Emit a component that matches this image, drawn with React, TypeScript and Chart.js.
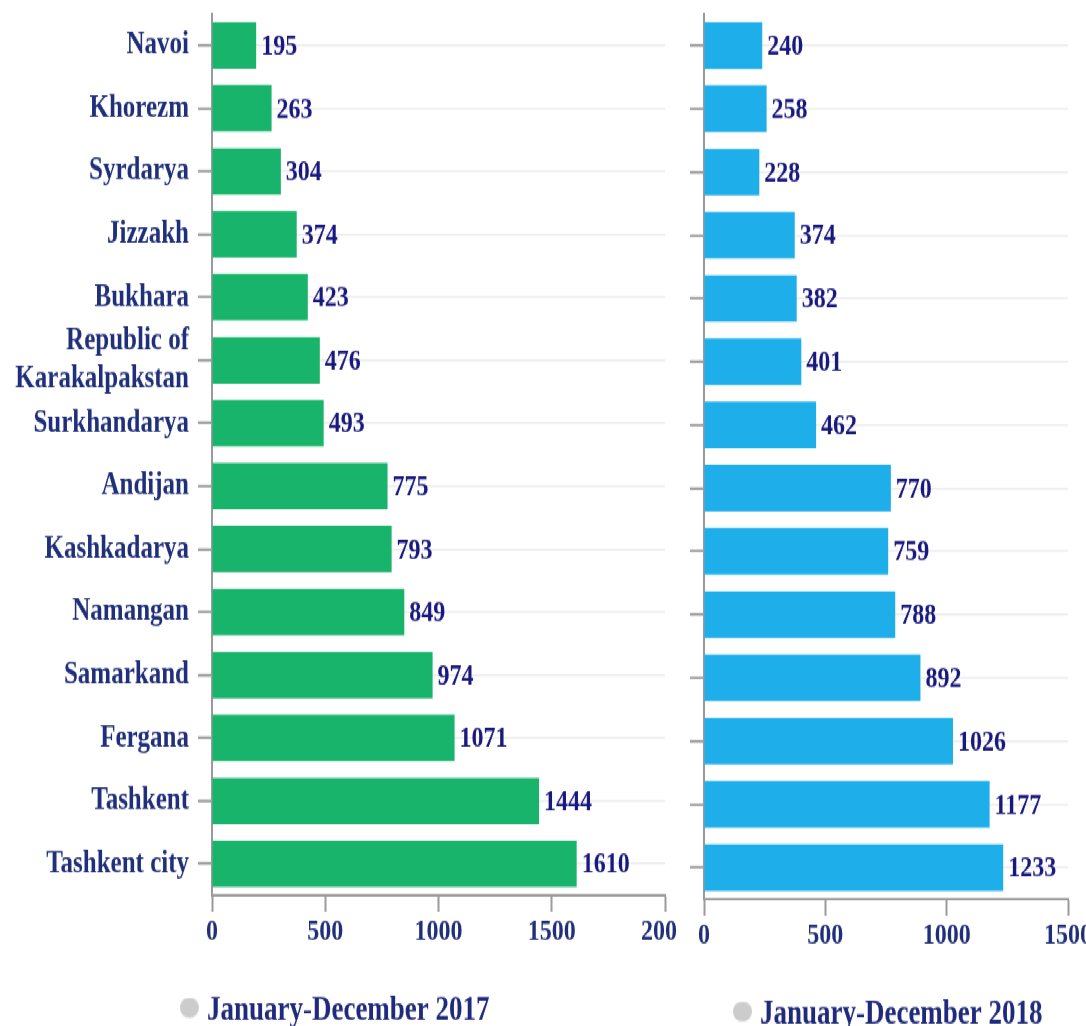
import React, { useEffect, useRef } from "react";
import { Chart, registerables } from "chart.js";

Chart.register(...registerables);

// ---- data ----
const categories: (string | string[])[] = [
  "Navoi",
  "Khorezm",
  "Syrdarya",
  "Jizzakh",
  "Bukhara",
  ["Republic of", "Karakalpakstan"],
  "Surkhandarya",
  "Andijan",
  "Kashkadarya",
  "Namangan",
  "Samarkand",
  "Fergana",
  "Tashkent",
  "Tashkent city",
];
const values2017 = [195, 263, 304, 374, 423, 476, 493, 775, 793, 849, 974, 1071, 1444, 1610];
const values2018 = [240, 258, 228, 374, 382, 401, 462, 770, 759, 788, 892, 1026, 1177, 1233];
const series2017 = "January-December 2017";
const series2018 = "January-December 2018";
const axisMax2017 = 2000;
const axisMax2018 = 1500;
const tickStep = 500;

// ---- style ----
const STRETCH = 1.27;
const FONT = "'Liberation Serif', 'Times New Roman', Times, serif";
const LABEL_COLOR = "#1f2f7a";
const VALUE_COLOR = "#18187f";
const LEGEND_COLOR = "#1f2a7c";
const AXIS_COLOR = "#9a9a9a";
const GRID_COLOR = "#ececec";
const GREEN = "#18b46c";
const BLUE = "#1eaeea";

let legendDot: HTMLCanvasElement | null = null;
function getLegendDot(): HTMLCanvasElement {
  if (legendDot) return legendDot;
  const c = document.createElement("canvas");
  c.width = 19;
  c.height = 22;
  const g = c.getContext("2d")!;
  g.fillStyle = "#cccccc";
  g.beginPath();
  g.ellipse(9.5, 8, 9.5, 8, 0, 0, Math.PI * 2);
  g.fill();
  legendDot = c;
  return c;
}

const valueLabels = {
  id: "valueLabels",
  afterDatasetsDraw(chart: any) {
    const ctx = chart.ctx;
    chart.data.datasets.forEach((ds: any, di: number) => {
      const meta = chart.getDatasetMeta(di);
      meta.data.forEach((el: any, i: number) => {
        ctx.save();
        ctx.font = `bold 24px ${FONT}`;
        ctx.fillStyle = VALUE_COLOR;
        ctx.textAlign = "left";
        ctx.textBaseline = "middle";
        ctx.fillText(String(ds.data[i]), el.x + 5, el.y + 1);
        ctx.restore();
      });
    });
  },
};

type Opts = {
  data: number[];
  color: string;
  name: string;
  max: number;
  showLabels: boolean;
  padding: { top: number; left: number; right: number; bottom: number };
  yWidth: number;
  xPadRight: number | null;
};

function makeConfig(o: Opts): any {
  return {
    type: "bar",
    data: {
      labels: categories,
      datasets: [
        {
          label: o.name,
          data: o.data,
          backgroundColor: o.color,
          borderWidth: 0,
          barPercentage: 0.92,
          categoryPercentage: 0.8,
        },
      ],
    },
    plugins: [valueLabels],
    options: {
      indexAxis: "y",
      responsive: false,
      animation: false,
      events: [],
      layout: { padding: o.padding },
      plugins: {
        tooltip: { enabled: false },
        legend: {
          display: true,
          position: "bottom",
          labels: {
            usePointStyle: true,
            boxWidth: 8,
            boxHeight: 12,
            padding: 10,
            color: LEGEND_COLOR,
            font: { family: FONT, size: 27, weight: "bold" },
            generateLabels: () => [
              {
                text: o.name,
                fillStyle: "#cccccc",
                strokeStyle: "#cccccc",
                lineWidth: 0,
                pointStyle: getLegendDot(),
                hidden: false,
                datasetIndex: 0,
                fontColor: LEGEND_COLOR,
              },
            ],
          },
        },
      },
      scales: {
        x: {
          type: "linear",
          min: 0,
          max: o.max,
          ticks: {
            stepSize: tickStep,
            color: LABEL_COLOR,
            font: { family: FONT, size: 24, weight: "bold" },
            padding: 1,
            maxRotation: 0,
            autoSkip: false,
            callback: (v: any) => String(v),
          },
          grid: {
            drawOnChartArea: false,
            drawTicks: true,
            tickLength: 13,
            tickColor: AXIS_COLOR,
            tickWidth: 2,
          },
          border: { display: true, color: AXIS_COLOR, width: 2 },
          afterFit: (s: any) => {
            s.height = 68;
            if (o.xPadRight !== null) s.paddingRight = o.xPadRight;
          },
        },
        y: {
          type: "category",
          offset: true,
          ticks: {
            display: o.showLabels,
            color: LABEL_COLOR,
            font: { family: FONT, size: 25, weight: "bold", lineHeight: 1.2 },
            padding: 9,
            autoSkip: false,
          },
          grid: {
            offset: false,
            drawOnChartArea: true,
            color: GRID_COLOR,
            lineWidth: 1.5,
            drawTicks: true,
            tickLength: 14,
            tickColor: AXIS_COLOR,
            tickWidth: 2,
          },
          border: { display: true, color: AXIS_COLOR, width: 2 },
          afterFit: (s: any) => {
            s.width = o.yWidth;
            s.paddingTop = 0;
            s.paddingBottom = 0;
          },
        },
      },
    },
  };
}

function BarPanel(props: { width: number; height: number; config: any }) {
  const ref = useRef<HTMLCanvasElement | null>(null);
  useEffect(() => {
    if (!ref.current) return;
    const chart = new Chart(ref.current, props.config);
    return () => chart.destroy();
  }, []);
  return <canvas ref={ref} width={props.width} height={props.height} />;
}

export default function App() {
  const leftConfig = makeConfig({
    data: values2017,
    color: GREEN,
    name: series2017,
    max: axisMax2017,
    showLabels: true,
    padding: { top: 11, left: 10, right: 35, bottom: 0 },
    yWidth: 202,
    xPadRight: null,
  });
  const rightConfig = makeConfig({
    data: values2018,
    color: BLUE,
    name: series2018,
    max: axisMax2018,
    showLabels: false,
    padding: { top: 11, left: 0, right: 0, bottom: 0 },
    yWidth: 26,
    xPadRight: 35,
  });
  return (
    <div
      style={{
        position: "absolute",
        left: 0,
        top: 0,
        width: 1086,
        height: 1026,
        overflow: "hidden",
        background: "#ffffff",
      }}
    >
      <div
        style={{
          position: "absolute",
          left: 0,
          top: 0,
          width: 1086,
          height: 830,
          transform: `scaleY(${STRETCH})`,
          transformOrigin: "0 0",
        }}
      >
        <div style={{ position: "absolute", left: 0, top: 0, width: 678, height: 830, overflow: "hidden" }}>
          <BarPanel width={700} height={820} config={leftConfig} />
        </div>
        <div style={{ position: "absolute", left: 678, top: 0 }}>
          <BarPanel width={425} height={823} config={rightConfig} />
        </div>
      </div>
    </div>
  );
}
